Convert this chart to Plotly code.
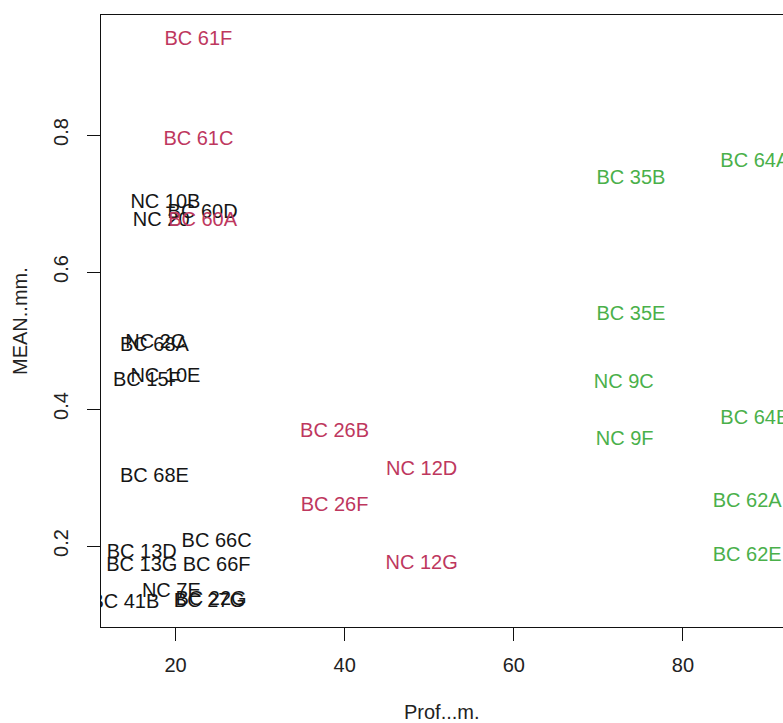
import plotly.graph_objects as go

# Sample labels, depth (Prof...m.) and mean grain size (MEAN..mm.), grouped by cluster
black_labels = ["NC 10B", "BC 60D", "NC 20", "NC 2C", "BC 68A", "NC 10E", "BC 15F",
                "BC 68E", "BC 66C", "BC 13D", "BC 13G", "BC 66F", "NC 7E", "BC 41B",
                "BC 27G", "BC 22G"]
black_prof = [18.8, 23.2, 18.3, 17.6, 17.5, 18.8, 16.6,
              17.5, 24.85, 16.0, 16.0, 24.85, 19.5, 14.0,
              24.0, 24.2]
black_mean = [0.701, 0.686, 0.674, 0.496, 0.492, 0.447, 0.441,
              0.301, 0.206, 0.190, 0.171, 0.171, 0.133, 0.117,
              0.118, 0.121]

red_labels = ["BC 61F", "BC 61C", "BC 60A", "BC 26B", "NC 12D", "BC 26F", "NC 12G"]
red_prof = [22.7, 22.7, 23.2, 38.8, 49.1, 38.8, 49.1]
red_mean = [0.939, 0.793, 0.674, 0.366, 0.311, 0.258, 0.174]

green_labels = ["BC 35B", "BC 64A", "BC 35E", "NC 9C", "NC 9F", "BC 64E", "BC 62A", "BC 62E"]
green_prof = [73.85, 88.5, 73.85, 73.0, 73.1, 88.5, 87.6, 87.6]
green_mean = [0.736, 0.761, 0.537, 0.438, 0.355, 0.385, 0.264, 0.185]

x_ticks = [20, 40, 60, 80]
y_ticks = [0.2, 0.4, 0.6, 0.8]

FONT = "Liberation Sans, Arial, sans-serif"
SIZE = 20

fig = go.Figure()
for labels, xs, ys, color in [
    (black_labels, black_prof, black_mean, "#151515"),
    (red_labels, red_prof, red_mean, "#BE375E"),
    (green_labels, green_prof, green_mean, "#4AB04A"),
]:
    fig.add_trace(go.Scatter(
        x=xs, y=ys, text=labels, mode="text",
        textposition="middle center",
        textfont=dict(family=FONT, size=SIZE, color=color),
        cliponaxis=True, showlegend=False, hoverinfo="skip",
    ))

fig.update_layout(
    width=783, height=723,
    margin=dict(l=101, r=0, t=15, b=96),
    paper_bgcolor="white", plot_bgcolor="white",
    font=dict(family=FONT, size=SIZE, color="#222222"),
    xaxis=dict(
        range=[11.18, 91.83], tickvals=x_ticks, ticktext=[str(v) for v in x_ticks],
        showgrid=False, zeroline=False, showline=True, mirror=True,
        linecolor="#111111", linewidth=1,
        ticks="outside", ticklen=13, tickcolor="#111111",
        ticklabelstandoff=7,
    ),
    yaxis=dict(
        range=[0.0818, 0.9752], tickvals=y_ticks, ticktext=[str(v) for v in y_ticks],
        showgrid=False, zeroline=False, showline=True, mirror=False,
        linecolor="#111111", linewidth=1,
        ticks="outside", ticklen=13, tickcolor="#111111",
        tickangle=-90, ticklabelstandoff=11,
    ),
    annotations=[
        dict(text="Prof...m.", xref="paper", yref="paper", x=0.5, y=0,
             xanchor="center", yanchor="middle", yshift=-85, showarrow=False,
             font=dict(family=FONT, size=SIZE, color="#222222")),
        dict(text="MEAN..mm.", xref="paper", yref="paper", x=0, y=0.5,
             xanchor="center", yanchor="middle", xshift=-81, textangle=-90,
             showarrow=False, font=dict(family=FONT, size=SIZE, color="#222222")),
    ],
)

fig.write_html("out.html")
